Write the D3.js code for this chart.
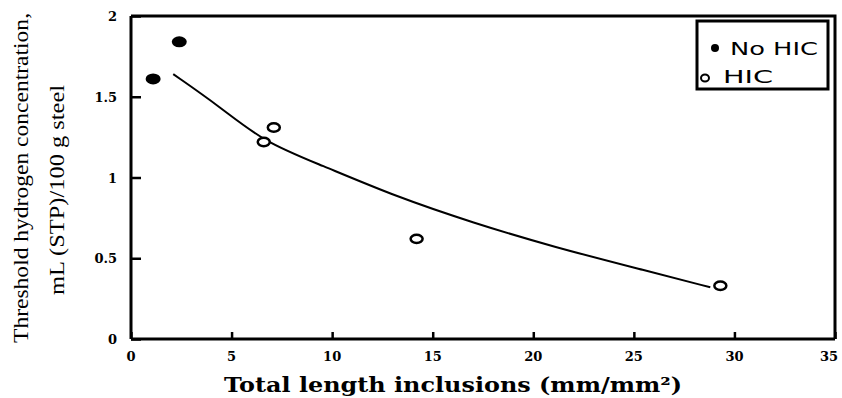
<!DOCTYPE html>
<html>
<head>
<meta charset="utf-8">
<script src="https://cdn.jsdelivr.net/npm/d3@7"></script>
<style>
  body { margin: 0; background: #fff; }
  svg { display: block; }
</style>
</head>
<body>
<div class="canvas"></div>
<script>
// what to show
var noHicX = [1.1, 2.4],
    noHicY = [1.61, 1.84];
var hicX = [6.6, 7.1, 14.2, 29.3],
    hicY = [1.22, 1.31, 0.62, 0.33];
var fitX = [2.1, 4.4, 6.6, 9.4, 13.2, 17, 21, 25.7, 28.8],
    fitY = [1.64, 1.44, 1.22, 1.08, 0.88, 0.72, 0.57, 0.42, 0.32];
var xTicks = [0, 5, 10, 15, 20, 25, 30, 35],
    yTicks = [0, 0.5, 1, 1.5, 2];
var legendLabels = ['No HIC', 'HIC'];

// where does it live
var width = 842,
    height = 398,
    plotLeft = 131, plotRight = 835, plotTop = 16, plotBottom = 339;

var svg = d3.select('.canvas').append('svg')
    .attr('width', width)
    .attr('height', height);

var x = d3.scaleLinear().domain([0, 35]).range([plotLeft, plotRight]),
    y = d3.scaleLinear().domain([0, 2]).range([plotBottom, plotTop]);

var serif = '"Liberation Serif", "DejaVu Serif", serif',
    heavy = '"DejaVu Serif", "Liberation Serif", serif';

// frame (top and right)
svg.append('path')
    .attr('d', 'M' + plotLeft + ',' + plotTop + 'H' + plotRight + 'V' + plotBottom)
    .attr('fill', 'none')
    .attr('stroke', '#000')
    .attr('stroke-width', 3);

// x axis, ticks pointing inward
var xAxis = svg.append('g')
    .attr('transform', 'translate(0,' + plotBottom + ')')
    .call(d3.axisTop(x).tickValues(xTicks).tickSize(7).tickFormat(''));
xAxis.select('.domain').attr('stroke-width', 3).attr('d', 'M' + plotLeft + ',0H' + plotRight);
xAxis.selectAll('.tick line').attr('stroke-width', 2.5);

// last label sits a little inside the edge, as in the scan
svg.append('g').selectAll('text')
    .data(xTicks)
    .enter()
    .append('text')
    .attr('x', function (d) { return Math.min(x(d), 829); })
    .attr('y', 361)
    .attr('text-anchor', 'middle')
    .attr('font-family', heavy)
    .attr('font-weight', 'bold')
    .attr('font-size', 13)
    .text(function (d) { return d; });

// y axis, ticks crossing the line
var yAxis = svg.append('g')
    .attr('transform', 'translate(' + plotLeft + ',0)')
    .call(d3.axisLeft(y).tickValues(yTicks).tickSize(9).tickFormat(''));
yAxis.select('.domain').attr('stroke-width', 3).attr('d', 'M0,' + plotTop + 'V' + plotBottom);
yAxis.selectAll('.tick line').attr('x2', 10).attr('stroke-width', 2.5);

svg.append('g').selectAll('text')
    .data(yTicks)
    .enter()
    .append('text')
    .attr('x', 117)
    .attr('y', function (d) { return y(d) + 5; })
    .attr('text-anchor', 'end')
    .attr('font-family', heavy)
    .attr('font-weight', 'bold')
    .attr('font-size', 13)
    .text(function (d) { return d; });

// fitted curve
var line = d3.line()
    .x(function (d) { return x(d[0]); })
    .y(function (d) { return y(d[1]); })
    .curve(d3.curveBasis);

svg.append('path')
    .datum(d3.zip(fitX, fitY))
    .attr('d', line)
    .attr('fill', 'none')
    .attr('stroke', '#000')
    .attr('stroke-width', 2);

// points
svg.append('g').selectAll('ellipse')
    .data(d3.zip(noHicX, noHicY))
    .enter()
    .append('ellipse')
    .attr('cx', function (d) { return x(d[0]); })
    .attr('cy', function (d) { return y(d[1]); })
    .attr('rx', 7.5)
    .attr('ry', 5.5)
    .attr('fill', '#000');

svg.append('g').selectAll('ellipse')
    .data(d3.zip(hicX, hicY))
    .enter()
    .append('ellipse')
    .attr('cx', function (d) { return x(d[0]); })
    .attr('cy', function (d) { return y(d[1]); })
    .attr('rx', 6)
    .attr('ry', 4.2)
    .attr('fill', '#fff')
    .attr('stroke', '#000')
    .attr('stroke-width', 2.5);

// legend
var legend = svg.append('g');
legend.append('rect')
    .attr('x', 697).attr('y', 21)
    .attr('width', 131).attr('height', 68)
    .attr('fill', '#fff')
    .attr('stroke', '#000')
    .attr('stroke-width', 3);
legend.append('circle')
    .attr('cx', 715).attr('cy', 48).attr('r', 4)
    .attr('fill', '#000');
legend.append('ellipse')
    .attr('cx', 705).attr('cy', 78).attr('rx', 4).attr('ry', 3.5)
    .attr('fill', 'none').attr('stroke', '#000').attr('stroke-width', 2);
legend.selectAll('text')
    .data(legendLabels)
    .enter()
    .append('text')
    .attr('x', function (d, i) { return i === 0 ? 730 : 723; })
    .attr('y', function (d, i) { return i === 0 ? 55 : 83; })
    .attr('font-family', '"DejaVu Sans", sans-serif')
    .attr('font-size', 17)
    .attr('textLength', function (d, i) { return i === 0 ? 88 : 50; })
    .attr('lengthAdjust', 'spacingAndGlyphs')
    .text(function (d) { return d; });

// axis titles
svg.append('text')
    .attr('x', 453).attr('y', 392)
    .attr('text-anchor', 'middle')
    .attr('font-family', heavy)
    .attr('font-weight', 'bold')
    .attr('font-size', 20)
    .attr('textLength', 458)
    .attr('lengthAdjust', 'spacingAndGlyphs')
    .text('Total length inclusions (mm/mm²)');

svg.append('text')
    .attr('transform', 'translate(28,178) rotate(-90)')
    .attr('text-anchor', 'middle')
    .attr('font-family', serif)
    .attr('font-size', 21)
    .attr('textLength', 330)
    .attr('lengthAdjust', 'spacingAndGlyphs')
    .text('Threshold hydrogen concentration,');

svg.append('text')
    .attr('transform', 'translate(64,190) rotate(-90)')
    .attr('text-anchor', 'middle')
    .attr('font-family', serif)
    .attr('font-size', 21)
    .attr('textLength', 210)
    .attr('lengthAdjust', 'spacingAndGlyphs')
    .text('mL (STP)/100 g steel');
</script>
</body>
</html>
